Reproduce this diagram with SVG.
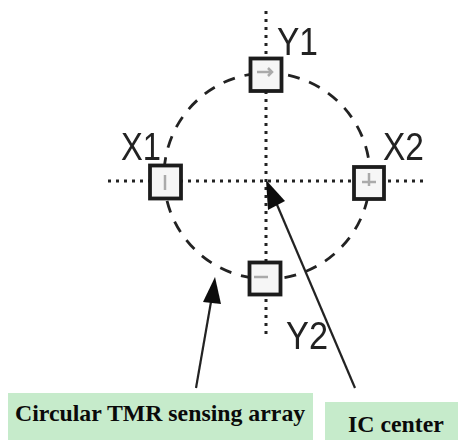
<svg xmlns="http://www.w3.org/2000/svg" width="458" height="440" viewBox="0 0 458 440">
<defs><filter id="soft" x="-5%" y="-5%" width="110%" height="110%"><feGaussianBlur stdDeviation="0.55"/></filter></defs>
<style>
.axis{fill:none;stroke:#222;stroke-width:3;stroke-dasharray:3 5}
.ring{fill:none;stroke:#222;stroke-width:2.8;stroke-dasharray:12 10}
.lead{fill:none;stroke:#222;stroke-width:2.2}
.tip{fill:#111}
.sq{fill:#f6f6f6;stroke:#1c1c1c;stroke-width:3.8}
.glyph{fill:none;stroke:#aaa;stroke-width:2.5}
.lab{font-family:"Liberation Sans",Arial,sans-serif;font-size:38px;fill:#222}
.box{fill:#c6ebcb}
.cap{font-family:"Liberation Serif","Times New Roman",serif;font-weight:bold;font-size:23.800px;fill:#0a0a0a}
</style>
<rect width="458" height="440" fill="#fff"/>
<g id="connectors" filter="url(#soft)">
<circle class="ring" cx="267" cy="176" r="103"/>
<path class="axis" d="M108 181H423"/>
<path class="axis" d="M266 11V335"/>
<path class="lead" d="M196 388L212 296"/>
<polygon class="tip" points="215,277 203,302 221,304"/>
<path class="lead" d="M355 388L275 200"/>
<polygon class="tip" points="266,180 268,210 285,201"/>
</g>
<g id="y1" filter="url(#soft)"><rect class="sq" x="250.500" y="58.500" width="31" height="32.500"/><path class="glyph" d="M257 72H272M268 68l4 4-4 4"/><text class="lab" x="277" y="55" textLength="41" lengthAdjust="spacingAndGlyphs">Y1</text></g>
<g id="x1" filter="url(#soft)"><rect class="sq" x="150" y="165.500" width="31" height="33"/><path class="glyph" d="M165 175V190"/><text class="lab" x="121" y="160" textLength="40" lengthAdjust="spacingAndGlyphs">X1</text></g>
<g id="x2" filter="url(#soft)"><rect class="sq" x="354" y="167" width="30" height="32"/><path class="glyph" d="M369 173V186M362 182H376"/><text class="lab" x="383" y="160" textLength="41" lengthAdjust="spacingAndGlyphs">X2</text></g>
<g id="y2" filter="url(#soft)"><rect class="sq" x="249.500" y="262.500" width="31" height="32"/><path class="glyph" d="M254 277H268"/><text class="lab" x="286" y="349" textLength="42" lengthAdjust="spacingAndGlyphs">Y2</text></g>
<g id="array-label"><rect class="box" x="8" y="393" width="305" height="47"/><text class="cap" x="15" y="421">Circular TMR sensing array</text></g>
<g id="center-label"><rect class="box" x="325" y="402" width="133" height="38"/><text class="cap" x="348" y="432">IC center</text></g>
</svg>
